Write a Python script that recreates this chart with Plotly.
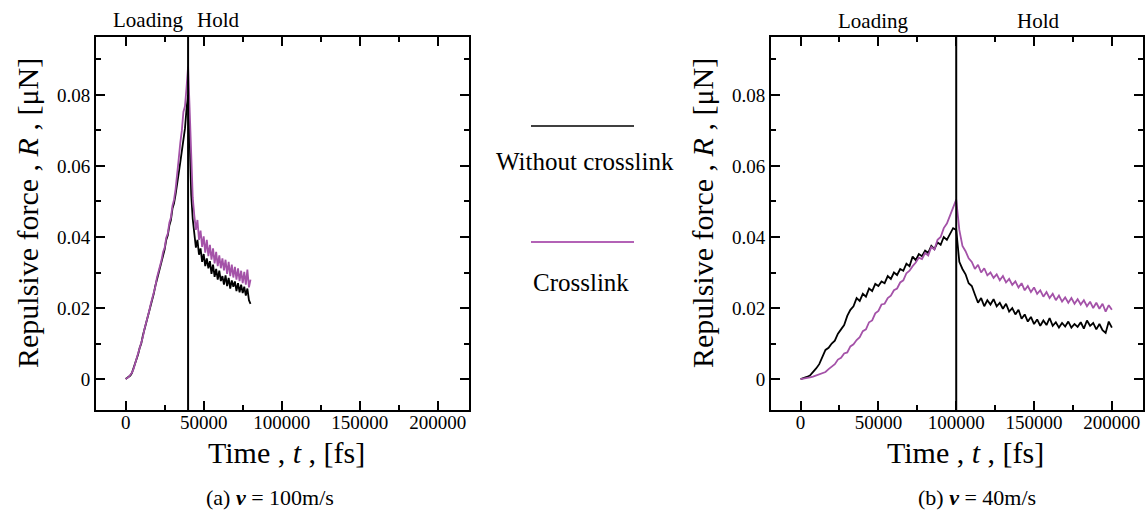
import plotly.graph_objects as go

# ---------------- data ----------------
# (a) v = 100 m/s : time step 1000 fs, 0 .. 80000
time_a = [i * 1000 for i in range(81)]
without_a = [
    0.0000, 0.0003, 0.0005, 0.0010, 0.0017, 0.0030, 0.0040, 0.0058, 0.0070, 0.0088,
    0.0100, 0.0122, 0.0138, 0.0160, 0.0172, 0.0192, 0.0205, 0.0222, 0.0240, 0.0262,
    0.0280, 0.0298, 0.0318, 0.0335, 0.0352, 0.0365, 0.0392, 0.0405, 0.0432, 0.0448,
    0.0480, 0.0495, 0.0520, 0.0545, 0.0580, 0.0610, 0.0640, 0.0672, 0.0705, 0.0760,
    0.0800, 0.0680, 0.0520, 0.0450, 0.0415, 0.0370, 0.0392, 0.0350, 0.0368, 0.0330,
    0.0352, 0.0318, 0.0340, 0.0312, 0.0332, 0.0296, 0.0322, 0.0288, 0.0310, 0.0280,
    0.0305, 0.0276, 0.0290, 0.0266, 0.0292, 0.0262, 0.0285, 0.0255, 0.0278, 0.0260,
    0.0275, 0.0248, 0.0270, 0.0244, 0.0266, 0.0242, 0.0260, 0.0235, 0.0255, 0.0222,
    0.0212,
]
crosslink_a = [
    0.0000, 0.0002, 0.0006, 0.0012, 0.0018, 0.0028, 0.0042, 0.0055, 0.0072, 0.0085,
    0.0102, 0.0118, 0.0140, 0.0155, 0.0175, 0.0190, 0.0210, 0.0225, 0.0245, 0.0260,
    0.0285, 0.0300, 0.0322, 0.0335, 0.0358, 0.0370, 0.0398, 0.0410, 0.0440, 0.0455,
    0.0488, 0.0505, 0.0535, 0.0570, 0.0620, 0.0665, 0.0700, 0.0752, 0.0768, 0.0820,
    0.0880, 0.0760, 0.0600, 0.0510, 0.0460, 0.0420, 0.0448, 0.0392, 0.0418, 0.0372,
    0.0402, 0.0356, 0.0392, 0.0346, 0.0378, 0.0336, 0.0368, 0.0326, 0.0358, 0.0318,
    0.0348, 0.0312, 0.0340, 0.0306, 0.0336, 0.0296, 0.0330, 0.0290, 0.0322, 0.0286,
    0.0316, 0.0280, 0.0312, 0.0276, 0.0305, 0.0270, 0.0302, 0.0266, 0.0308, 0.0258,
    0.0280,
]

# (b) v = 40 m/s : time step 2000 fs, 0 .. 200000
time_b = [i * 2000 for i in range(101)]
without_b = [
    0.0000, 0.0002, 0.0006, 0.0010, 0.0019, 0.0030, 0.0042, 0.0060, 0.0082, 0.0088,
    0.0100, 0.0108, 0.0128, 0.0140, 0.0152, 0.0178, 0.0195, 0.0205, 0.0228, 0.0220,
    0.0240, 0.0232, 0.0255, 0.0248, 0.0268, 0.0262, 0.0275, 0.0270, 0.0290, 0.0282,
    0.0300, 0.0293, 0.0310, 0.0305, 0.0325, 0.0318, 0.0345, 0.0335, 0.0352, 0.0346,
    0.0362, 0.0355, 0.0375, 0.0366, 0.0385, 0.0378, 0.0400, 0.0392, 0.0410, 0.0425,
    0.0420, 0.0330, 0.0310, 0.0295, 0.0270, 0.0262, 0.0238, 0.0215, 0.0228, 0.0205,
    0.0222, 0.0210, 0.0225, 0.0205, 0.0215, 0.0198, 0.0212, 0.0190, 0.0200, 0.0182,
    0.0195, 0.0170, 0.0182, 0.0162, 0.0175, 0.0155, 0.0168, 0.0150, 0.0165, 0.0152,
    0.0172, 0.0150, 0.0160, 0.0145, 0.0158, 0.0148, 0.0162, 0.0145, 0.0155, 0.0147,
    0.0160, 0.0142, 0.0165, 0.0150, 0.0158, 0.0140, 0.0155, 0.0138, 0.0130, 0.0162,
    0.0145,
]
crosslink_b = [
    0.0000, 0.0001, 0.0003, 0.0005, 0.0007, 0.0010, 0.0012, 0.0015, 0.0020, 0.0028,
    0.0035, 0.0042, 0.0055, 0.0060, 0.0072, 0.0075, 0.0092, 0.0098, 0.0110, 0.0118,
    0.0135, 0.0140, 0.0160, 0.0165, 0.0185, 0.0192, 0.0210, 0.0212, 0.0228, 0.0235,
    0.0250, 0.0255, 0.0272, 0.0278, 0.0298, 0.0305, 0.0318, 0.0328, 0.0342, 0.0338,
    0.0355, 0.0348, 0.0372, 0.0365, 0.0392, 0.0400, 0.0425, 0.0438, 0.0460, 0.0485,
    0.0505, 0.0420, 0.0375, 0.0360, 0.0340, 0.0330, 0.0310, 0.0322, 0.0300, 0.0312,
    0.0292, 0.0300, 0.0285, 0.0295, 0.0278, 0.0290, 0.0272, 0.0282, 0.0265, 0.0275,
    0.0258, 0.0270, 0.0250, 0.0262, 0.0245, 0.0258, 0.0240, 0.0250, 0.0232, 0.0245,
    0.0228, 0.0240, 0.0222, 0.0235, 0.0218, 0.0230, 0.0215, 0.0228, 0.0212, 0.0225,
    0.0210, 0.0222, 0.0205, 0.0218, 0.0200, 0.0215, 0.0198, 0.0212, 0.0190, 0.0208,
    0.0195,
]

hold_start_a = 40000
hold_start_b = 100000
series_names = ["Without crosslink", "Crosslink"]
x_tick_vals = [0, 50000, 100000, 150000, 200000]
y_tick_vals = [0, 0.02, 0.04, 0.06, 0.08]
captions = ["(a) <b><i>v</i></b> = 100m/s", "(b) <b><i>v</i></b> = 40m/s"]

# ---------------- styling ----------------
W, H = 1146, 513
FONT = "Liberation Serif"
BLACK = "#000000"
PURPLE = "#A452A8"
PURPLE_LEG = "#9A2E9E"

def px(x):
    return x / W

def py(y):
    return 1 - y / H

fig = go.Figure()

for xa, ya, t, w, c in [("x", "y", time_a, without_a, crosslink_a),
                        ("x2", "y2", time_b, without_b, crosslink_b)]:
    fig.add_trace(go.Scatter(x=t, y=w, mode="lines", xaxis=xa, yaxis=ya,
                             line=dict(color=BLACK, width=1.8), showlegend=False,
                             name=series_names[0]))
    fig.add_trace(go.Scatter(x=t, y=c, mode="lines", xaxis=xa, yaxis=ya,
                             line=dict(color=PURPLE, width=1.8), showlegend=False,
                             name=series_names[1]))

xr = [-19000, 220000]
yr = [-0.0087, 0.0963]
axis_common = dict(
    showline=True, linecolor=BLACK, linewidth=2, mirror="allticks",
    ticks="inside", ticklen=9, tickwidth=1.5, tickcolor=BLACK,
    showgrid=False, zeroline=False,
    tickfont=dict(family=FONT, size=19, color=BLACK),
)
xax = dict(axis_common, range=xr, tickvals=x_tick_vals, tickformat="d",
           ticklabelstandoff=-6,
           minor=dict(ticks="inside", ticklen=5, tickwidth=1.5, tickcolor=BLACK, dtick=25000, tick0=0))
yax = dict(axis_common, range=yr, tickvals=y_tick_vals,
           minor=dict(ticks="inside", ticklen=5, tickwidth=1.5, tickcolor=BLACK, dtick=0.01, tick0=0))

dom_y = [py(410), py(37)]
fig.update_layout(
    width=W, height=H, margin=dict(l=0, r=0, t=0, b=0),
    paper_bgcolor="white", plot_bgcolor="white",
    font=dict(family=FONT, color=BLACK),
    xaxis=dict(xax, domain=[px(96), px(469)], anchor="y"),
    yaxis=dict(yax, domain=dom_y, anchor="x"),
    xaxis2=dict(xax, domain=[px(771), px(1143)], anchor="y2"),
    yaxis2=dict(yax, domain=dom_y, anchor="x2"),
    showlegend=False,
)

# phase separators
fig.add_shape(type="line", xref="x", yref="y domain", x0=hold_start_a, x1=hold_start_a,
              y0=0, y1=1, line=dict(color=BLACK, width=2))
fig.add_shape(type="line", xref="x2", yref="y2 domain", x0=hold_start_b, x1=hold_start_b,
              y0=0, y1=1, line=dict(color=BLACK, width=2))

ann = []
def text(x, y, s, size, angle=0, xanchor="center"):
    ann.append(dict(x=px(x), y=py(y), xref="paper", yref="paper", text=s, showarrow=False,
                    xanchor=xanchor, yanchor="middle", textangle=angle,
                    font=dict(family=FONT, size=size, color=BLACK)))

# phase labels
text(148, 20, "Loading", 21)
text(218, 20, "Hold", 21)
text(873, 21, "Loading", 21)
text(1038, 21, "Hold", 21)

# axis titles
ytitle = "Repulsive force , <i>R</i> , [μN]"
xtitle = "Time , <i>t</i> , [fs]"
text(27, 213, ytitle, 30, angle=-90)
text(702, 213, ytitle, 30, angle=-90)
text(286, 452, xtitle, 30)
text(966, 452, xtitle, 30)

# captions
text(270, 497, captions[0], 22)
text(977, 497, captions[1], 22)

# legend (between panels)
fig.add_shape(type="line", xref="paper", yref="paper", x0=px(531), x1=px(634),
              y0=py(126), y1=py(126), line=dict(color=BLACK, width=1.5))
fig.add_shape(type="line", xref="paper", yref="paper", x0=px(531), x1=px(634),
              y0=py(242), y1=py(242), line=dict(color=PURPLE_LEG, width=1.5))
text(585, 161, series_names[0], 25)
text(581, 282, series_names[1], 25)

fig.update_layout(annotations=ann)
fig.write_html("out.html")
